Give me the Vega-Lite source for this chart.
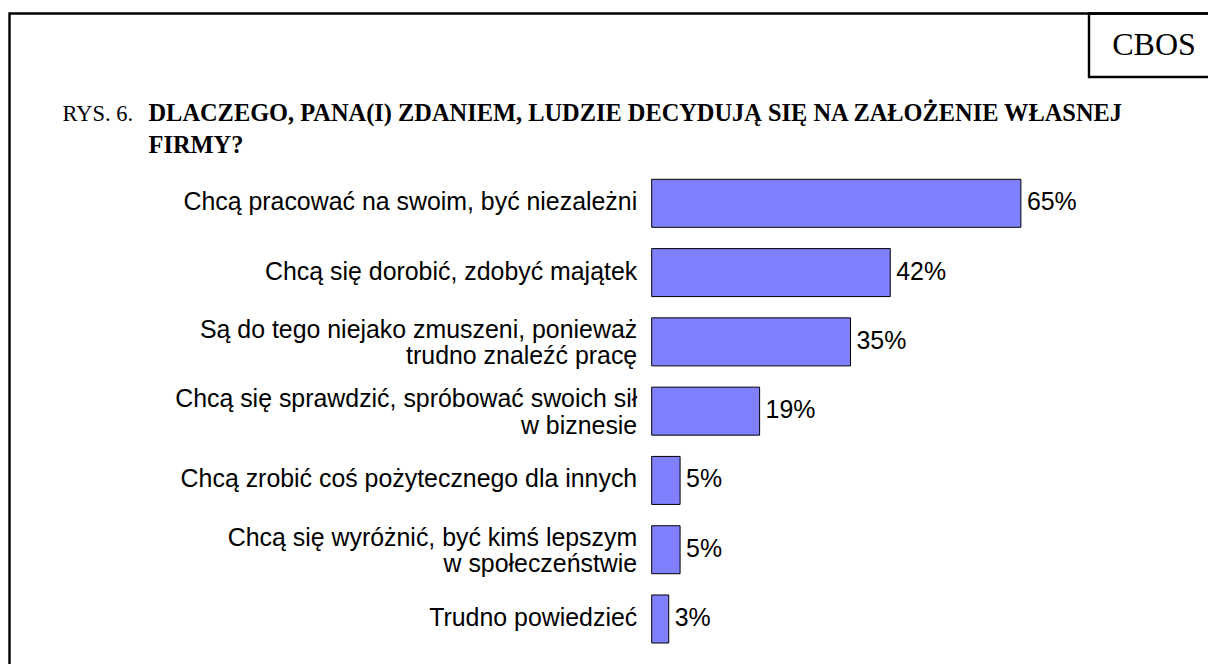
{
  "$schema": "https://vega.github.io/schema/vega-lite/v6.json",
  "autosize": {"type": "none"},
  "padding": {"left": 9.5, "top": 13.5, "right": 0, "bottom": 0},
  "width": 1300,
  "height": 700,
  "background": "white",
  "config": {"view": {"stroke": "#000000", "strokeWidth": 2.4}},
  "resolve": {"scale": {"y": "independent"}, "axis": {"y": "independent"}},
  "layer": [
    {
      "data": {"values": [
        {"reason": "Chcą pracować na swoim, być niezależni", "share": 0.65},
        {"reason": "Chcą się dorobić, zdobyć majątek", "share": 0.42},
        {"reason": "Są do tego niejako zmuszeni, ponieważ\ntrudno znaleźć pracę", "share": 0.35},
        {"reason": "Chcą się sprawdzić, spróbować swoich sił\nw biznesie", "share": 0.19},
        {"reason": "Chcą zrobić coś pożytecznego dla innych", "share": 0.05},
        {"reason": "Chcą się wyróżnić, być kimś lepszym\nw społeczeństwie", "share": 0.05},
        {"reason": "Trudno powiedzieć", "share": 0.03}
      ]},
      "encoding": {
        "x": {
          "field": "share", "type": "quantitative",
          "scale": {"domain": [-1.1306, 1.1581], "nice": false, "zero": false},
          "axis": {
            "orient": "top", "labels": false, "ticks": false, "domain": false, "grid": false,
            "title": ["DLACZEGO, PANA(I) ZDANIEM, LUDZIE DECYDUJĄ SIĘ NA ZAŁOŻENIE WŁASNEJ", "FIRMY?"],
            "titleFont": "Liberation Serif", "titleFontWeight": "bold", "titleFontSize": 24.4,
            "titleColor": "#000000", "titleLineHeight": 32, "titleAlign": "left", "titleAnchor": "start",
            "titleBaseline": "alphabetic", "titleX": 138.5, "titleY": 107, "titleLimit": 3000, "titleAngle": 0
          }
        },
        "y": {
          "field": "reason", "type": "nominal", "sort": null,
          "scale": {"range": [165.8, 629.5], "paddingInner": 0.307, "paddingOuter": 0},
          "axis": {
            "orient": "left", "offset": -642.2, "domain": false, "ticks": false, "grid": false,
            "labelPadding": 15, "labelFont": "Liberation Sans", "labelFontSize": 24.9,
            "labelColor": "#000000", "labelLineHeight": 26.5, "labelLimit": 0, "labelAlign": "right",
            "labelOffset": {"condition": {"test": "indexof(datum.value, '\\n') >= 0", "value": -11}, "value": 0},
            "labelExpr": "split(datum.value, '\\n')",
            "title": "RYS. 6.", "titleFont": "Liberation Serif", "titleFontWeight": "normal",
            "titleFontSize": 22.5, "titleColor": "#000000", "titleAngle": 0, "titleAlign": "left",
            "titleBaseline": "alphabetic", "titleX": -589.7, "titleY": 107, "titleLimit": 3000
          }
        }
      },
      "layer": [
        {"mark": {"type": "bar", "color": "#8080FF", "stroke": "#000000", "strokeWidth": 1}},
        {
          "mark": {"type": "text", "align": "left", "baseline": "middle", "dx": 6,
                   "font": "Liberation Sans", "fontSize": 24.9, "color": "#000000"},
          "encoding": {"text": {"field": "share", "type": "quantitative", "format": ".0%"}}
        }
      ]
    },
    {
      "data": {"values": [{"source": "CBOS"}]},
      "layer": [
        {
          "mark": {"type": "rect", "fill": null, "fillOpacity": 0, "stroke": "#000000", "strokeWidth": 2.4},
          "encoding": {
            "x": {"datum": 0.7699, "type": "quantitative"},
            "x2": {"datum": 1.1581},
            "y": {"datum": 0, "type": "quantitative", "scale": {"domain": [0, 700], "reverse": true, "nice": false}, "axis": null},
            "y2": {"datum": 63.5}
          }
        },
        {
          "mark": {"type": "text", "align": "center", "baseline": "middle",
                   "font": "Liberation Serif", "fontSize": 32, "color": "#000000"},
          "encoding": {
            "x": {"datum": 0.8844, "type": "quantitative"},
            "y": {"datum": 31, "type": "quantitative", "scale": {"domain": [0, 700], "reverse": true, "nice": false}, "axis": null},
            "text": {"field": "source"}
          }
        }
      ]
    }
  ]
}
